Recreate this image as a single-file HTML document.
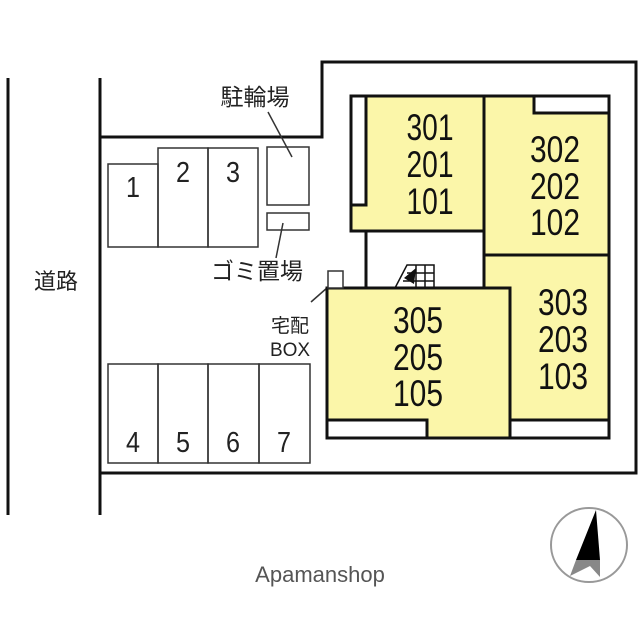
<!DOCTYPE html>
<html><head><meta charset="utf-8"><style>
html,body{margin:0;padding:0;background:#fff;}
svg{display:block;}
.num{font-family:"Liberation Sans",sans-serif;font-size:37px;fill:#111;}
.pk{font-family:"Liberation Sans",sans-serif;font-size:29px;fill:#222;}
.jp{font-family:"Liberation Sans","Noto Sans CJK JP",sans-serif;fill:#222;}
</style></head><body>
<svg width="640" height="640" viewBox="0 0 640 640" xmlns="http://www.w3.org/2000/svg">
<rect width="640" height="640" fill="#fff"/>
<line x1="8" y1="78" x2="8" y2="515" stroke="#111" stroke-width="3"/>
<polyline points="100,78 100,515" stroke="#111" stroke-width="3" fill="none"/>
<polyline points="100,137 322,137 322,62 636,62 636,473 100,473" stroke="#111" stroke-width="3" fill="none"/>
<text x="56" y="289" class="jp" font-size="22" text-anchor="middle">道路</text>

<g stroke="#333" stroke-width="1.5" fill="none">
<rect x="108" y="164" width="50" height="83"/>
<rect x="158" y="148" width="50" height="99"/>
<rect x="208" y="148" width="50" height="99"/>
<rect x="267" y="147" width="42" height="58"/>
<rect x="267" y="213" width="42" height="17"/>
<rect x="108" y="364" width="50" height="99"/>
<rect x="158" y="364" width="50" height="99"/>
<rect x="208" y="364" width="51" height="99"/>
<rect x="259" y="364" width="51" height="99"/>
<line x1="268" y1="112" x2="292" y2="157"/>
<line x1="283" y1="223" x2="276" y2="258"/>
<line x1="311" y1="302" x2="336" y2="280"/>
</g>
<text x="133" y="197" class="pk" text-anchor="middle" textLength="14" lengthAdjust="spacingAndGlyphs">1</text>
<text x="183" y="182" class="pk" text-anchor="middle" textLength="14" lengthAdjust="spacingAndGlyphs">2</text>
<text x="233" y="182" class="pk" text-anchor="middle" textLength="14" lengthAdjust="spacingAndGlyphs">3</text>
<text x="133" y="452" class="pk" text-anchor="middle" textLength="14" lengthAdjust="spacingAndGlyphs">4</text>
<text x="183" y="452" class="pk" text-anchor="middle" textLength="14" lengthAdjust="spacingAndGlyphs">5</text>
<text x="233" y="452" class="pk" text-anchor="middle" textLength="14" lengthAdjust="spacingAndGlyphs">6</text>
<text x="284" y="452" class="pk" text-anchor="middle" textLength="14" lengthAdjust="spacingAndGlyphs">7</text>
<text x="255" y="105" class="jp" font-size="23" text-anchor="middle">駐輪場</text>
<text x="257" y="279" class="jp" font-size="23" text-anchor="middle">ゴミ置場</text>
<text x="290" y="332" class="jp" font-size="19" text-anchor="middle">宅配</text>
<text x="290" y="356" class="jp" font-size="19" text-anchor="middle">BOX</text>

<g stroke="#111" stroke-width="3" fill="#fbf6a9">
<polygon points="351,96 510,96 510,179 484,179 484,231 351,231"/>
<rect x="484" y="96" width="125" height="159"/>
<rect x="484" y="255" width="125" height="182"/>
<rect x="327" y="288" width="183" height="150"/>
</g>
<g stroke="#111" stroke-width="3" fill="#fff">
<rect x="351" y="96" width="15" height="109"/>
<rect x="534" y="96" width="75" height="17"/>
<rect x="510" y="420" width="99" height="18"/>
<rect x="327" y="420" width="100" height="18"/>
<rect x="366" y="231" width="118" height="57"/>
</g>
<rect x="328" y="271" width="15" height="17" fill="#fff" stroke="#333" stroke-width="1.5"/>
<g stroke="#111" stroke-width="1.5" fill="none">
<polyline points="395,288 407,265 434,265 434,288"/>
<line x1="416" y1="265" x2="416" y2="288"/>
<line x1="425" y1="265" x2="425" y2="288"/>
<line x1="407" y1="273" x2="434" y2="273"/>
<line x1="403" y1="281" x2="434" y2="281"/>
</g>
<polygon points="404,278 416,268 414,284" fill="#111"/>

<g class="num" text-anchor="middle">
<text x="430" y="140" textLength="47" lengthAdjust="spacingAndGlyphs">301</text>
<text x="430" y="177" textLength="47" lengthAdjust="spacingAndGlyphs">201</text>
<text x="430" y="214" textLength="47" lengthAdjust="spacingAndGlyphs">101</text>
<text x="555" y="162" textLength="50" lengthAdjust="spacingAndGlyphs">302</text>
<text x="555" y="199" textLength="50" lengthAdjust="spacingAndGlyphs">202</text>
<text x="555" y="235" textLength="50" lengthAdjust="spacingAndGlyphs">102</text>
<text x="563" y="315" textLength="50" lengthAdjust="spacingAndGlyphs">303</text>
<text x="563" y="352" textLength="50" lengthAdjust="spacingAndGlyphs">203</text>
<text x="563" y="389" textLength="50" lengthAdjust="spacingAndGlyphs">103</text>
<text x="418" y="333" textLength="50" lengthAdjust="spacingAndGlyphs">305</text>
<text x="418" y="370" textLength="50" lengthAdjust="spacingAndGlyphs">205</text>
<text x="418" y="406" textLength="50" lengthAdjust="spacingAndGlyphs">105</text>
</g>

<ellipse cx="589" cy="545" rx="38" ry="37" fill="none" stroke="#999" stroke-width="2"/>
<polygon points="596,510 600,560 576,560" fill="#000"/>
<polygon points="576,560 600,560 600,577 590,566 570,576" fill="#888"/>

<text x="320" y="582" font-family="Liberation Sans,sans-serif" font-size="22" fill="#555" text-anchor="middle">Apamanshop</text>
</svg>
</body></html>
